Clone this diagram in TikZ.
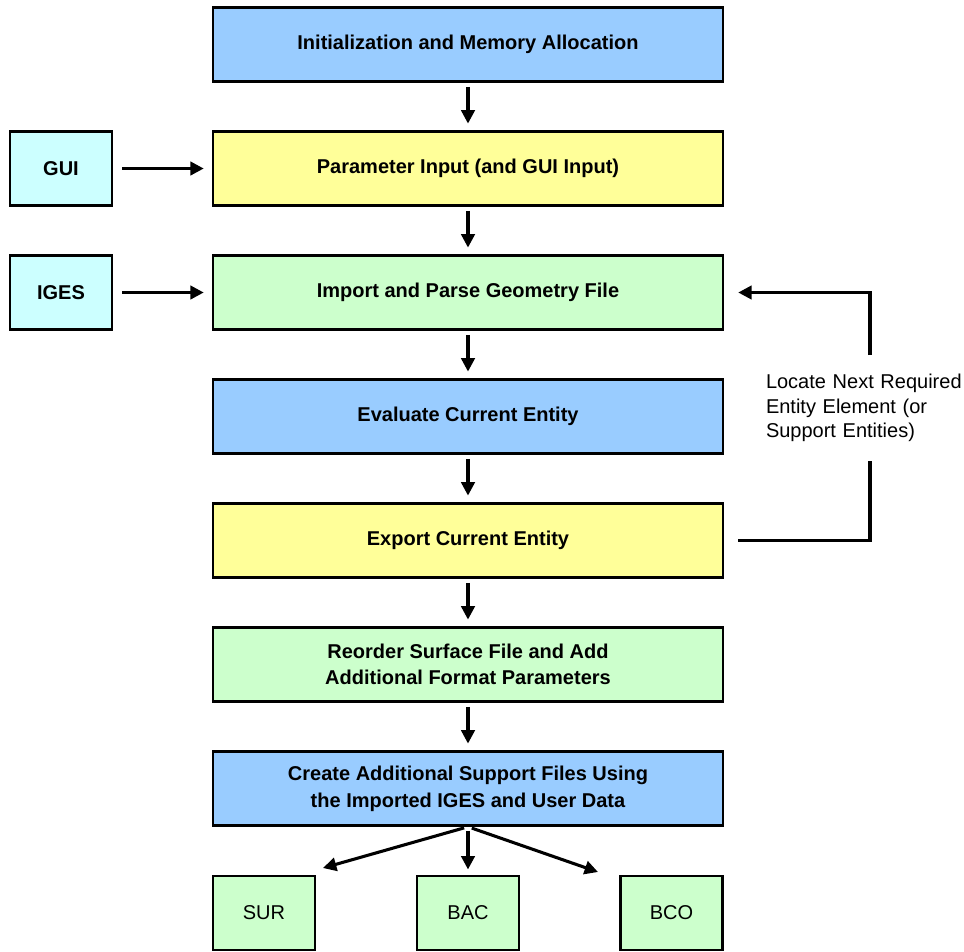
\documentclass[tikz,border=0pt]{standalone}
\usepackage{fontspec}
\setmainfont{Liberation Sans}
\usetikzlibrary{positioning, arrows.meta, shadows}

\definecolor{boxblue}{HTML}{99CCFF}
\definecolor{boxyellow}{HTML}{FFFF99}
\definecolor{boxgreen}{HTML}{CCFFCC}
\definecolor{boxcyan}{HTML}{CCFFFF}

\begin{document}
\begin{tikzpicture}
	[x=0.75pt, y=-0.75pt, on grid, node distance=93pt,
	 block/.style={draw, line width=1.9pt, minimum width=382.5pt, minimum height=55.5pt,
	   font=\fontsize{15}{20}\selectfont\bfseries, align=center,
	   drop shadow={shadow xshift=0.8pt, shadow yshift=-0.8pt, fill=black!55, opacity=1}},
	 small/.style={block, minimum width=76.5pt},
	 link/.style={line width=2.3pt},
	 flow/.style={link, -{Triangle[length=10pt,width=10pt]}, shorten <=3pt, shorten >=5pt}]
   \useasboundingbox (0,0) rectangle (964,951);
   % main column
   \node[block, fill=boxblue] (init) at (468,44.5) {Initialization and Memory Allocation};
   \node[block, fill=boxyellow] (param) [below=of init] {Parameter Input (and GUI Input)};
   \node[block, fill=boxgreen] (import) [below=of param] {Import and Parse Geometry File};
   \node[block, fill=boxblue] (eval) [below=of import] {Evaluate Current Entity};
   \node[block, fill=boxyellow] (export) [below=of eval] {Export Current Entity};
   \node[block, fill=boxgreen] (reorder) [below=of export] {Reorder Surface File and Add\\Additional Format Parameters};
   \node[block, fill=boxblue] (create) [below=of reorder] {Create Additional Support Files Using\\ the Imported IGES and User Data};
   % inputs
   \node[small, fill=boxcyan] (gui) [left=305.25pt of param] {GUI};
   \node[small, fill=boxcyan] (iges) [left=305.25pt of import] {IGES};
   % output files
   \node[small, fill=boxgreen, font=\fontsize{15}{20}\selectfont] (sur) [below left=93.4pt and 153pt of create] {SUR};
   \node[small, fill=boxgreen, font=\fontsize{15}{20}\selectfont] (bac) [below=93.4pt of create] {BAC};
   \node[small, fill=boxgreen, font=\fontsize{15}{20}\selectfont] (bco) [below right=93.4pt and 152.6pt of create] {BCO};
   % loop label
   \node[text width=156pt, align=left, inner xsep=0pt, inner ysep=14pt,
         font=\fontsize{15}{18.4}\selectfont] (loop) at (870,408) {Locate Next Required\\Entity Element (or\\Support Entities)};
   \coordinate (surend) at (323,868);
   \coordinate (bcoend) at (598,872);

   \draw[flow] (init) -- (param);
   \draw[flow] (param) -- (import);
   \draw[flow] (import) -- (eval);
   \draw[flow] (eval) -- (export);
   \draw[flow] (export) -- (reorder);
   \draw[flow] (reorder) -- (create);
   \draw[flow, shorten <=6.75pt, shorten >=6pt] (gui) -- (param);
   \draw[flow, shorten <=6.75pt, shorten >=6pt] (iges) -- (import);
   \draw[link] ([xshift=10.5pt]export.east) -| (loop.south);
   \draw[flow, shorten <=0pt, shorten >=10.5pt] (loop.north) |- (import.east);
   \draw[flow, shorten >=0pt] (create.south) -- (surend);
   \draw[flow, shorten >=4pt] (create.south) -- (bac);
   \draw[flow, shorten >=0pt] (create.south) -- (bcoend);
\end{tikzpicture}
\end{document}
